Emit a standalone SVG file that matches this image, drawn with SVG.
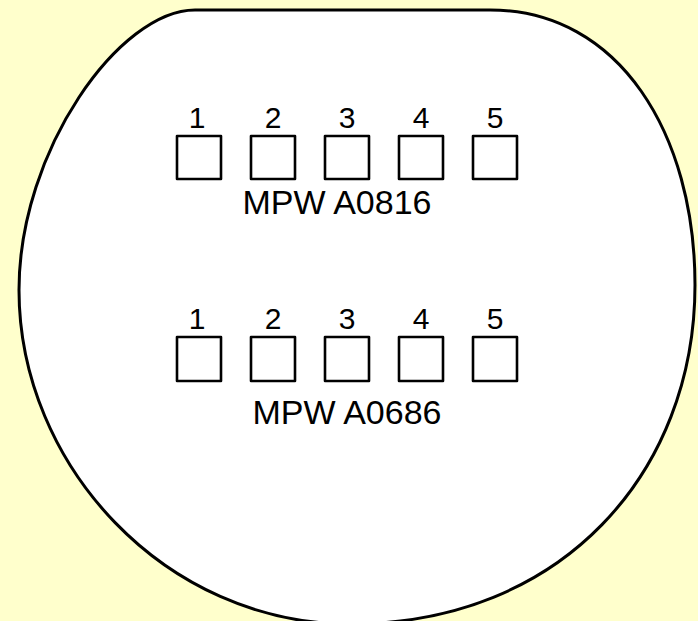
<svg xmlns="http://www.w3.org/2000/svg" width="698" height="621" viewBox="0 0 698 621">
  <style>
    .wafer { fill: #FFFFFF; stroke: #000000; stroke-width: 3; }
    .die { fill: #FFFFFF; stroke: #000000; stroke-width: 2.6; stroke-linejoin: round; }
    .num { font-family: "Liberation Sans", Arial, sans-serif; font-size: 30px; fill: #000000; text-anchor: middle; }
    .lbl { font-family: "Liberation Sans", Arial, sans-serif; font-size: 34px; fill: #000000; text-anchor: middle; }
  </style>
  <rect x="0" y="0" width="698" height="621" fill="#FFFFCC"/>
  <g id="wafer">
    <path class="wafer" d="M195,10 L490,10 C620,10 695,135 695,285 C695,472 562,624 350,624 C165,624 19,465 19,290 C19,150 120,10 195,10 Z"/>
  </g>
  <g id="row-a0816">
    <g id="a0816-die1"><rect class="die" x="177" y="136" width="44" height="43"/><text class="num" x="197" y="128">1</text></g>
    <g id="a0816-die2"><rect class="die" x="251" y="136" width="44" height="43"/><text class="num" x="273" y="128">2</text></g>
    <g id="a0816-die3"><rect class="die" x="325" y="136" width="44" height="43"/><text class="num" x="347" y="128">3</text></g>
    <g id="a0816-die4"><rect class="die" x="399" y="136" width="44" height="43"/><text class="num" x="421" y="128">4</text></g>
    <g id="a0816-die5"><rect class="die" x="473" y="136" width="44" height="43"/><text class="num" x="495" y="128">5</text></g>
    <text id="a0816-label" class="lbl" x="337" y="214">MPW A0816</text>
  </g>
  <g id="row-a0686">
    <g id="a0686-die1"><rect class="die" x="177" y="337" width="44" height="44"/><text class="num" x="197" y="329">1</text></g>
    <g id="a0686-die2"><rect class="die" x="251" y="337" width="44" height="44"/><text class="num" x="273" y="329">2</text></g>
    <g id="a0686-die3"><rect class="die" x="325" y="337" width="44" height="44"/><text class="num" x="347" y="329">3</text></g>
    <g id="a0686-die4"><rect class="die" x="399" y="337" width="44" height="44"/><text class="num" x="421" y="329">4</text></g>
    <g id="a0686-die5"><rect class="die" x="473" y="337" width="44" height="44"/><text class="num" x="495" y="329">5</text></g>
    <text id="a0686-label" class="lbl" x="347" y="424">MPW A0686</text>
  </g>
  <g id="connectors"></g>
</svg>
